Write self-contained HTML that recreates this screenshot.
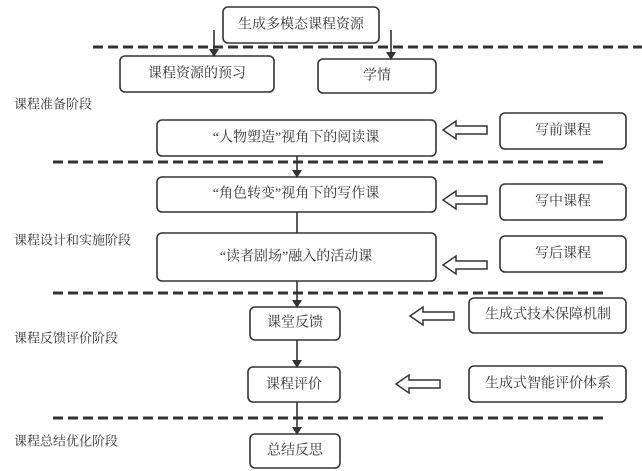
<!DOCTYPE html>
<html><head><meta charset="utf-8"><style>
html,body{margin:0;padding:0;background:#fff;}
svg{display:block;}
text{font-family:"Liberation Serif","Noto Serif CJK SC",serif;fill:#333;}
</style></head><body>
<svg width="642" height="471" viewBox="0 0 642 471" xmlns="http://www.w3.org/2000/svg">
<defs>
<marker id="ah" markerWidth="8" markerHeight="10" refX="7" refY="5" orient="auto" markerUnits="userSpaceOnUse">
<path d="M0,0 L8,5 L0,10 Z" fill="#333"/>
</marker>
<g id="ha"><path d="M0,0 L13,-9 L13,-4 L44,-4 L44,4 L13,4 L13,9 Z" fill="#fff" stroke="#333" stroke-width="1.5" stroke-linejoin="miter"/></g>
</defs>
<g stroke="#333" stroke-width="3" stroke-dasharray="10,5">
<line x1="93" y1="47" x2="642" y2="47"/>
<line x1="53" y1="162" x2="604" y2="162"/>
<line x1="53" y1="293" x2="604" y2="293"/>
<line x1="53" y1="418" x2="604" y2="418"/>
</g>
<g fill="#fff" stroke="#333" stroke-width="1.6">
<rect x="223" y="7" width="156" height="36" rx="5"/>
<rect x="120" y="56" width="154" height="36" rx="5"/>
<rect x="318" y="59" width="118" height="34" rx="5"/>
<rect x="157" y="120" width="279" height="36" rx="5"/>
<rect x="157" y="177" width="279" height="35" rx="5"/>
<rect x="157" y="233" width="279" height="48" rx="5"/>
<rect x="500" y="113" width="126" height="36" rx="5"/>
<rect x="500" y="184" width="126" height="36" rx="5"/>
<rect x="500" y="236" width="126" height="36" rx="5"/>
<rect x="250" y="307" width="90" height="33" rx="5"/>
<rect x="248" y="367" width="92" height="35" rx="5"/>
<rect x="250" y="434" width="90" height="34" rx="5"/>
<rect x="469" y="298" width="157" height="35" rx="5"/>
<rect x="469" y="366" width="157" height="36" rx="5"/>
</g>
<g stroke="#333" stroke-width="1.6" fill="none">
<line x1="214" y1="30" x2="214" y2="56" marker-end="url(#ah)"/>
<line x1="391" y1="30" x2="391" y2="59" marker-end="url(#ah)"/>
<line x1="297" y1="156" x2="297" y2="177" marker-end="url(#ah)"/>
<line x1="297" y1="212" x2="297" y2="233"/>
<line x1="297" y1="281" x2="297" y2="307" marker-end="url(#ah)"/>
<line x1="297" y1="340" x2="297" y2="367" marker-end="url(#ah)"/>
<line x1="297" y1="402" x2="297" y2="434" marker-end="url(#ah)"/>
</g>
<use href="#ha" x="443" y="130"/>
<use href="#ha" x="443" y="200"/>
<use href="#ha" x="443" y="265"/>
<use href="#ha" x="410" y="316"/>
<use href="#ha" x="396" y="384"/>
<g font-size="14" text-anchor="middle" dominant-baseline="central">
<text x="301" y="25">生成多模态课程资源</text>
<text x="197" y="74">课程资源的预习</text>
<text x="377" y="76">学情</text>
<text x="296" y="138">“人物塑造”视角下的阅读课</text>
<text x="296" y="194">“角色转变”视角下的写作课</text>
<text x="296" y="257">“读者剧场”融入的活动课</text>
<text x="563" y="131">写前课程</text>
<text x="563" y="202">写中课程</text>
<text x="563" y="254">写后课程</text>
<text x="295" y="323">课堂反馈</text>
<text x="294" y="385">课程评价</text>
<text x="295" y="451">总结反思</text>
<text x="548" y="315">生成式技术保障机制</text>
<text x="548" y="384">生成式智能评价体系</text>
</g>
<g font-size="13" dominant-baseline="central">
<text x="14" y="104">课程准备阶段</text>
<text x="14" y="240">课程设计和实施阶段</text>
<text x="14" y="338">课程反馈评价阶段</text>
<text x="14" y="441">课程总结优化阶段</text>
</g>
</svg>
</body></html>
